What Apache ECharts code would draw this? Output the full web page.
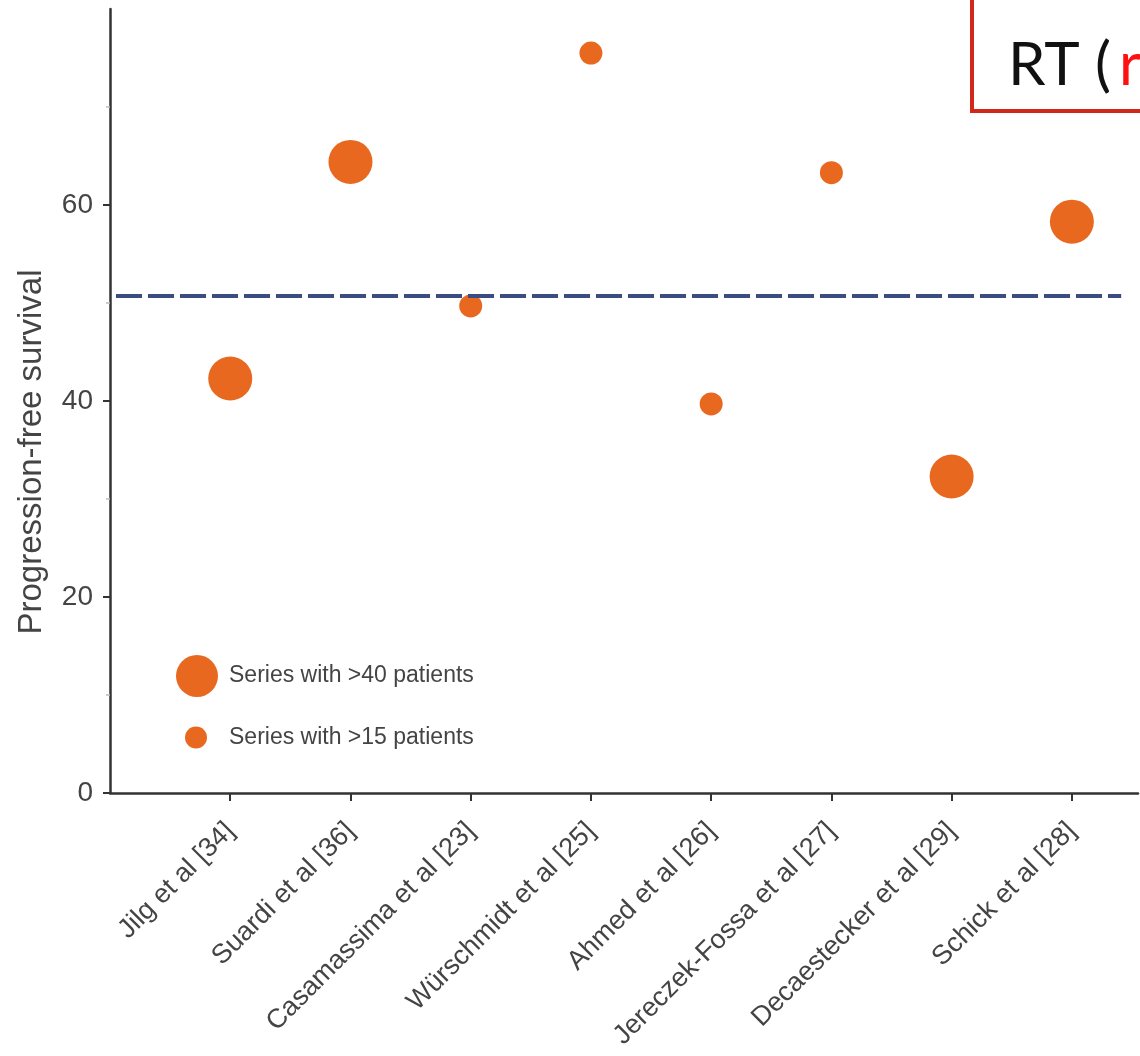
<!DOCTYPE html>
<html>
<head>
<meta charset="utf-8">
<script src="https://cdn.jsdelivr.net/npm/echarts@6/dist/echarts.min.js"></script>
<style>
  html, body { margin: 0; padding: 0; background: #fff; }
  #chart { width: 1140px; height: 1056px; }
</style>
</head>
<body>
<div id="chart"></div>
<script>
// Studies of metastasis-directed radiotherapy and their progression-free survival (%)
const studies = [
  'Jilg et al [34]',
  'Suardi et al [36]',
  'Casamassima et al [23]',
  'Würschmidt et al [25]',
  'Ahmed et al [26]',
  'Jereczek-Fossa et al [27]',
  'Decaestecker et al [29]',
  'Schick et al [28]'
];
const pfs = [42.3, 64.4, 49.7, 75.5, 39.7, 63.3, 32.3, 58.3];
// true = series with >40 patients, false = series with >15 patients
const largeSeries = [true, true, false, false, false, false, true, true];
const pooledPfs = 50.7;
const yTicks = [0, 20, 40, 60];
const legendLarge = 'Series with >40 patients';
const legendSmall = 'Series with >15 patients';

const ORANGE = '#e9681f';
const TEXT = '#444';
const FONT = '"Liberation Sans", Arial, Helvetica, sans-serif';

const bigPts = [], smallPts = [];
studies.forEach((s, i) => {
  (largeSeries[i] ? bigPts : smallPts).push([i + 1, pfs[i]]);
});
const xTicks = studies.map((s, i) => i + 1);

const chart = echarts.init(document.getElementById('chart'));
chart.setOption({
  animation: false,
  backgroundColor: '#fff',
  grid: { left: 110, top: 9, right: 2, bottom: 263, containLabel: false, outerBoundsMode: 'none' },
  xAxis: {
    type: 'value',
    min: 0,
    max: 8.55,
    interval: 1,
    splitLine: { show: false },
    axisLine: { lineStyle: { color: '#333', width: 2.5 } },
    axisTick: { show: true, length: 8, customValues: xTicks, lineStyle: { color: '#333', width: 2 } },
    axisLabel: {
      customValues: xTicks,
      rotate: 45,
      margin: 34,
      color: TEXT,
      fontFamily: FONT,
      fontSize: 27,
      formatter: v => studies[Math.round(v) - 1] || ''
    }
  },
  yAxis: {
    type: 'value',
    min: 0,
    max: 80,
    interval: 20,
    name: 'Progression-free survival',
    nameLocation: 'middle',
    nameGap: 62,
    nameTextStyle: { color: TEXT, fontFamily: FONT, fontSize: 33, padding: [0, 102, 0, 0] },
    splitLine: { show: false },
    axisLine: { lineStyle: { color: '#333', width: 2.5 } },
    axisTick: { show: true, length: 7, customValues: yTicks, lineStyle: { color: '#333', width: 2 } },
    minorTick: { show: true, splitNumber: 2, length: 4, lineStyle: { color: '#bbb', width: 1.5 } },
    axisLabel: {
      customValues: yTicks,
      margin: 17,
      color: TEXT,
      fontFamily: FONT,
      fontSize: 28
    }
  },
  legend: [
    {
      data: [legendLarge],
      left: 171, top: 650,
      itemWidth: 42, itemHeight: 42,
      icon: 'circle',
      textStyle: { color: TEXT, fontFamily: FONT, fontSize: 23, padding: [0, 0, 0, 6] }
    },
    {
      data: [legendSmall],
      left: 180, top: 721,
      itemWidth: 22, itemHeight: 22,
      icon: 'circle',
      textStyle: { color: TEXT, fontFamily: FONT, fontSize: 23, padding: [0, 0, 0, 17] }
    }
  ],
  series: [
    {
      name: legendLarge,
      type: 'scatter',
      symbol: 'circle',
      symbolSize: 44,
      itemStyle: { color: ORANGE, opacity: 1 },
      data: bigPts,
      z: 3
    },
    {
      name: legendSmall,
      type: 'scatter',
      symbol: 'circle',
      symbolSize: 23,
      itemStyle: { color: ORANGE, opacity: 1 },
      data: smallPts,
      z: 3,
      markLine: {
        silent: true,
        symbol: 'none',
        label: { show: false },
        lineStyle: { color: '#3b4d80', width: 4, type: [26, 6] },
        data: [[{ coord: [0.05, pooledPfs] }, { coord: [8.41, pooledPfs] }]]
      }
    }
  ],
  graphic: [
    {
      type: 'rect',
      shape: { x: 972, y: -20, width: 200, height: 131 },
      style: { fill: '#fff', stroke: '#d2281a', lineWidth: 4 },
      z: 10
    },
    {
      type: 'text',
      x: 1008, y: 66,
      style: {
        text: '{k|RT (}{r|r}',
        verticalAlign: 'middle',
        rich: {
          k: { fontFamily: 'Lato, "Open Sans", sans-serif', fontSize: 60, fill: '#111' },
          r: { fontFamily: 'Lato, "Open Sans", sans-serif', fontSize: 60, fill: '#ff1010', padding: [0, 0, 0, 8] }
        }
      },
      z: 11
    }
  ]
});
</script>
</body>
</html>
